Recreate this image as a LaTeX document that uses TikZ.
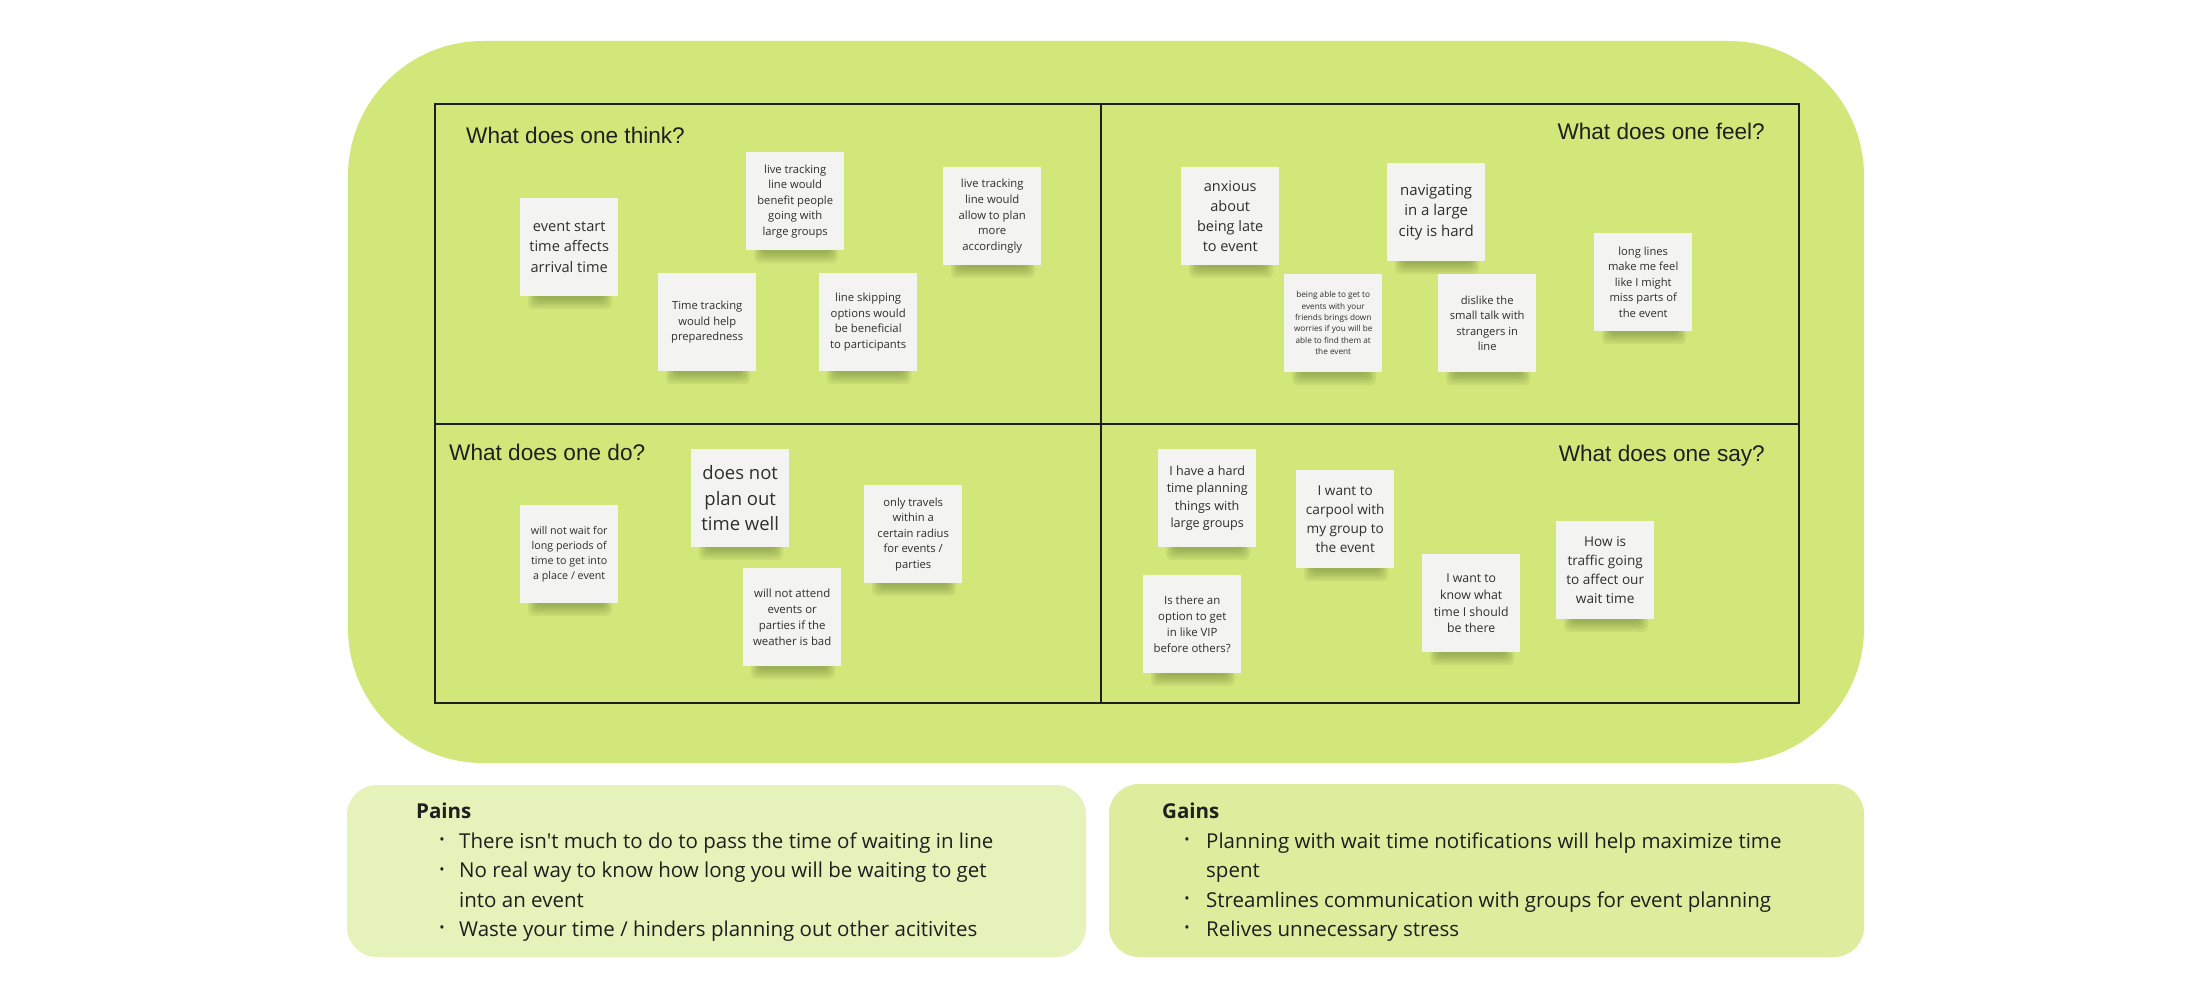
\documentclass[tikz,border=0pt]{standalone}
\usepackage{fontspec}
\setmainfont{Open Sans}[Ligatures=TeXOff]
\newfontfamily\headfont{Liberation Sans}
\definecolor{bgGreen}{HTML}{D1E77A}
\definecolor{painsC}{HTML}{E5F2B9}
\definecolor{gainsC}{HTML}{DDEC9D}
\definecolor{noteC}{HTML}{F3F4F2}
\definecolor{inkC}{HTML}{1F1F1F}
\definecolor{noteInk}{HTML}{2E2E2E}
\definecolor{shadC}{HTML}{3A4A10}
\tikzset{
  bigbox/.style={fill=bgGreen, rounded corners=135pt},
  listbox/.style={rounded corners=30pt},
  gridline/.style={draw=inkC, line width=2.5pt},
  heading/.style={font=\headfont\fontsize{22.6}{27}\selectfont, text=inkC, inner sep=0pt},
  notebox/.style={fill=noteC, minimum width=98pt, minimum height=98pt, inner sep=0pt,
    align=center, text=noteInk},
  listtxt/.style={font=\fontsize{20.5}{29.5}\selectfont, text=inkC, inner sep=0pt, anchor=base west},
  listhead/.style={font=\bfseries\fontsize{20.5}{29.5}\selectfont, text=inkC, inner sep=0pt, anchor=base west},
  bulletmark/.style={font=\fontsize{14}{16}\selectfont, text=inkC, inner sep=0pt, anchor=center},
}
% #1 name, #2 x, #3 y (top-left), #4 font size, #5 text
\newcommand\stickynote[5]{%
  \foreach \k in {0,1,2,3,4}{%
    \fill[shadC, opacity=0.08, rounded corners=5pt]
      (#2+8+2*\k, #3+92) rectangle (#2+92-2*\k, #3+111-2.5*\k);
  }
  \node[notebox, anchor=north west, font=\fontsize{#4}{\fpeval{#4*1.38}}\selectfont]
    (#1) at (#2,#3) {#5};
}
\begin{document}
\begin{tikzpicture}[x=1pt,y=-1pt]
\useasboundingbox[fill=white] (0,0) rectangle (2212,998);

% main canvas
\fill[bigbox] (348,41) rectangle (1864,763);

% quadrant grid
\coordinate (gTL) at (435,104);
\coordinate (gBR) at (1799,703);
\coordinate (gTop) at (1101,104);
\coordinate (gBot) at (1101,703);
\coordinate (gLeft) at (435,424);
\coordinate (gRight) at (1799,424);
\draw[gridline] (gTL) rectangle (gBR);
\draw[gridline] (gTop) -- (gBot);
\draw[gridline] (gLeft) -- (gRight);

% headings
\node[heading, anchor=base west] (hThink) at (466,143) {What does one think?};
\node[heading, anchor=base east] (hFeel) at (1765,139) {What does one feel?};
\node[heading, anchor=base west] (hDo) at (449,460) {What does one do?};
\node[heading, anchor=base east] (hSay) at (1765,461) {What does one say?};

% think
\stickynote{nA}{520}{198}{14.6}{event start\\time affects\\arrival time}
\stickynote{nB}{746}{152}{11.2}{live tracking\\line would\\benefit people\\going with\\large groups}
\stickynote{nC}{943}{167}{11.3}{live tracking\\line would\\allow to plan\\more\\accordingly}
\stickynote{nD}{658}{273}{11.2}{Time tracking\\would help\\preparedness}
\stickynote{nE}{819}{273}{11.3}{line skipping\\options would\\be beneficial\\to participants}

% feel
\stickynote{nF}{1181}{167}{14.5}{anxious\\about\\being late\\to event}
\stickynote{nG}{1387}{163}{15}{navigating\\in a large\\city is hard}
\stickynote{nH}{1284}{274}{8.2}{being able to get to\\events with your\\friends brings down\\worries if you will be\\able to find them at\\the event}
\stickynote{nI}{1438}{274}{11.2}{dislike the\\small talk with\\strangers in\\line}
\stickynote{nJ}{1594}{233}{11.2}{long lines\\make me feel\\like I might\\miss parts of\\the event}

% do
\stickynote{nK}{520}{505}{10.7}{will not wait for\\long periods of\\time to get into\\a place / event}
\stickynote{nL}{691}{449}{18.5}{does not\\plan out\\time well}
\stickynote{nM}{864}{485}{11.2}{only travels\\within a\\certain radius\\for events /\\parties}
\stickynote{nN}{743}{568}{11.4}{will not attend\\events or\\parties if the\\weather is bad}

% say
\stickynote{nO}{1158}{449}{12.6}{I have a hard\\time planning\\things with\\large groups}
\stickynote{nP}{1296}{470}{13.6}{I want to\\carpool with\\my group to\\the event}
\stickynote{nQ}{1143}{575}{11.4}{Is there an\\option to get\\in like VIP\\before others?}
\stickynote{nR}{1422}{554}{12.3}{I want to\\know what\\time I should\\be there}
\stickynote{nS}{1556}{521}{13.6}{How is\\traffic going\\to affect our\\wait time}

% pains
\fill[listbox, fill=painsC] (347,785) rectangle (1086,957);
\node[listhead] (pH) at (416,818) {Pains};
\node[bulletmark] (pb1) at (442,841.5) {•};
\node[listtxt] (p1) at (459,848) {There isn't much to do to pass the time of waiting in line};
\node[bulletmark] (pb2) at (442,871) {•};
\node[listtxt] (p2) at (459,877.5) {No real way to know how long you will be waiting to get};
\node[listtxt] (p2b) at (459,907) {into an event};
\node[bulletmark] (pb3) at (442,929.5) {•};
\node[listtxt] (p3) at (459,936) {Waste your time / hinders planning out other acitivites};

% gains
\fill[listbox, fill=gainsC] (1109,784) rectangle (1864,957);
\node[listhead] (gH) at (1162,818) {Gains};
\node[bulletmark] (gb1) at (1187,841.5) {•};
\node[listtxt] (g1) at (1206,848) {Planning with wait time notifications will help maximize time};
\node[listtxt] (g1b) at (1206,877.5) {spent};
\node[bulletmark] (gb2) at (1187,900.5) {•};
\node[listtxt] (g2) at (1206,907) {Streamlines communication with groups for event planning};
\node[bulletmark] (gb3) at (1187,929.5) {•};
\node[listtxt] (g3) at (1206,936) {Relives unnecessary stress};
\end{tikzpicture}
\end{document}
